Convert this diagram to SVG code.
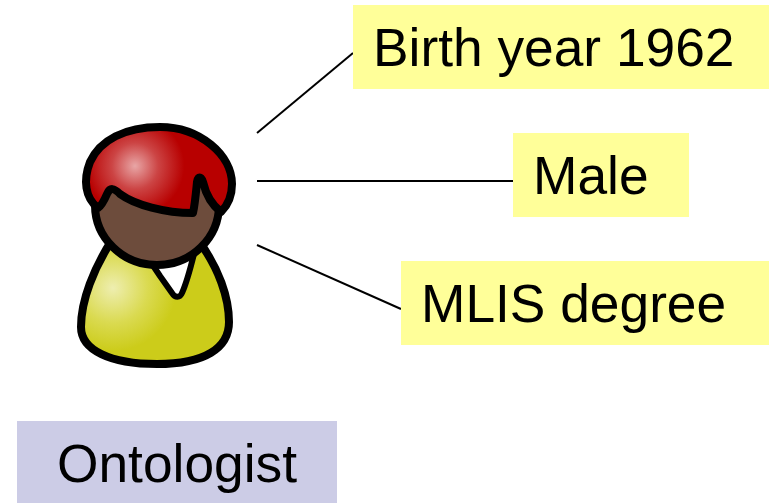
<svg xmlns="http://www.w3.org/2000/svg" width="769" height="503" viewBox="0 0 769 503">
<style>
.y{fill:#ffff99}
.t{font-family:"Liberation Sans",Arial,sans-serif;font-size:53.3px;fill:#000}
.c{stroke:#000;stroke-width:2;fill:none}
.o{stroke:#000;stroke-width:8;stroke-linejoin:round}
</style>
<defs>
<radialGradient id="hg" gradientUnits="userSpaceOnUse" cx="135" cy="166" r="58"><stop offset="0" stop-color="#e8a6a6"/><stop offset="0.4" stop-color="#cc4444"/><stop offset="0.85" stop-color="#b80000"/></radialGradient>
<radialGradient id="bg" gradientUnits="userSpaceOnUse" cx="113" cy="288" r="70"><stop offset="0" stop-color="#eeeeb0"/><stop offset="0.5" stop-color="#dada50"/><stop offset="0.9" stop-color="#cccc1a"/></radialGradient>
</defs>
<rect width="769" height="503" fill="#fff"/>
<g id="connectors">
<line class="c" x1="257" y1="133" x2="353" y2="53"/>
<line class="c" x1="257" y1="181" x2="513" y2="181"/>
<line class="c" x1="257" y1="245" x2="401" y2="309"/>
</g>
<g id="person">
<path class="o" fill="url(#bg)" d="M112 240C94 268 81 300 81 327C81 350 110 364 157 364C205 364 229 348 229 322C229 298 219 268 198 240Z"/>
<path d="M148 258L160 276L172 293C175 298 180 298 182 293C187 282 190 270 194 254Z" fill="#fff" stroke="#000" stroke-width="6" stroke-linejoin="round"/>
<ellipse class="o" cx="157" cy="205" rx="62" ry="60" fill="#6d4c3c"/>
<path class="o" fill="url(#hg)" d="M98 208C85 198 83 180 90 162C100 140 125 127 160 127C200 127 232 155 232 184C232 198 226 207 221 212C212 205 206 195 203 182C201 176 198 176 197 182C196 192 195 204 193 213C165 213 135 205 120 194C114 188 110 187 107 194C104 201 101 206 98 208Z"/>
</g>
<g id="birth"><rect class="y" x="353" y="5" width="416" height="84"/><text class="t" x="373" y="66">Birth year 1962</text></g>
<g id="male"><rect class="y" x="513" y="133" width="176" height="84"/><text class="t" x="533" y="194">Male</text></g>
<g id="mlis"><rect class="y" x="401" y="261" width="368" height="84"/><text class="t" x="421" y="322">MLIS degree</text></g>
<g id="ontologist"><rect x="17" y="421" width="320" height="82" fill="#ccccE6"/><text class="t" x="57" y="482">Ontologist</text></g>
</svg>
